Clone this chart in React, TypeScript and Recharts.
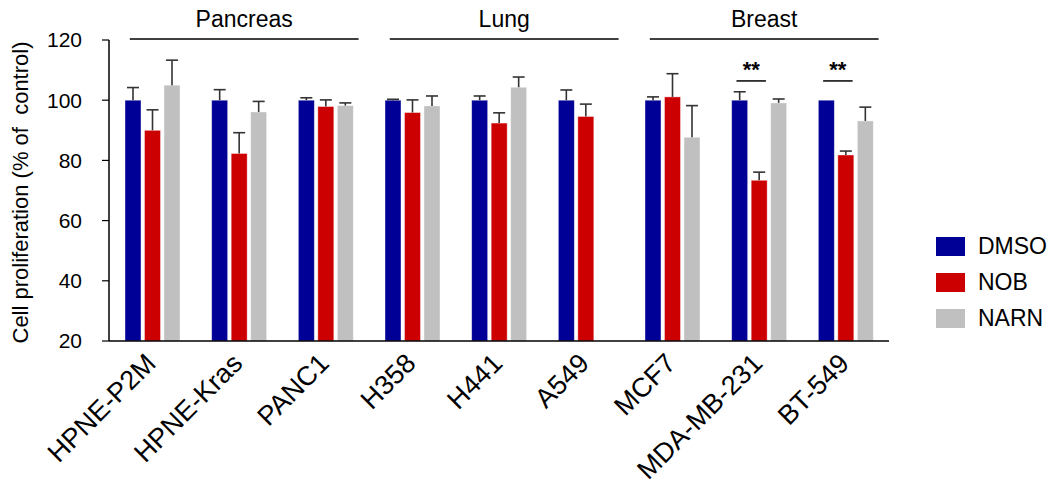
import React from 'react'
import { BarChart, Bar, XAxis, YAxis, ReferenceLine } from 'recharts'

const categories = ['HPNE-P2M', 'HPNE-Kras', 'PANC1', 'H358', 'H441', 'A549', 'MCF7', 'MDA-MB-231', 'BT-549']
const dmso = [100, 100, 100, 100, 100, 100, 100, 100, 100]
const dmsoErr = [4.2, 3.5, 0.8, 0.3, 1.4, 3.4, 1.1, 2.8, 0]
const nob = [90.0, 82.3, 97.9, 95.9, 92.4, 94.6, 101.1, 73.4, 81.8]
const nobErr = [6.8, 6.9, 2.2, 4.2, 3.4, 4.1, 7.7, 2.7, 1.3]
const narn = [105.0, 96.1, 98.2, 98.1, 104.3, null, 87.7, 99.1, 93.1]
const narnErr = [8.3, 3.5, 0.9, 3.3, 3.4, null, 10.5, 1.3, 4.6]

const groupNames = ['Pancreas', 'Lung', 'Breast']
const groupFirst = [0, 3, 6]
const groupLast = [2, 5, 8]

const sigCats = ['MDA-MB-231', 'BT-549']
const sigLabel = '**'
const sigLevel = 106.4

const yTicks = [20, 40, 60, 80, 100, 120]

const series = [
  { key: 'dmso', err: 'dmsoErr', name: 'DMSO', color: '#000096' },
  { key: 'nob', err: 'nobErr', name: 'NOB', color: '#cc0000' },
  { key: 'narn', err: 'narnErr', name: 'NARN', color: '#c0c0c0' },
]

const data = categories.map((c, i) => ({
  name: c,
  pos: i + 0.5,
  dmso: dmso[i],
  dmsoErr: dmsoErr[i],
  nob: nob[i],
  nobErr: nobErr[i],
  narn: narn[i],
  narnErr: narnErr[i],
}))

const FONT = '"Liberation Sans", Arial, sans-serif'
const Y_MIN = 20

// bar plus an upper-only error whisker; pixel scale taken from the bar itself
function barWithErr(dataKey: string, errKey: string) {
  return (props: any) => {
    const { x, y, width, height, fill, payload } = props
    const v = payload[dataKey]
    if (v == null || !height) return <g />
    const ppu = height / (v - Y_MIN)
    const e = payload[errKey] || 0
    const cx = x + width / 2
    const top = y - e * ppu
    return (
      <g>
        <rect x={x} y={y} width={width} height={height} fill={fill} stroke="#fff" strokeOpacity={0.5} strokeWidth={0.8} />
        {e > 0 && (
          <g stroke="#333" strokeWidth={1.6}>
            <line x1={cx} x2={cx} y1={y} y2={top} />
            <line x1={cx - 6} x2={cx + 6} y1={top} y2={top} />
          </g>
        )}
      </g>
    )
  }
}

function XTick({ x, y, payload }: any) {
  return (
    <g transform={`translate(${x + 5},${y + 16})`}>
      <text transform="rotate(-45)" textAnchor="end" fontSize={27} fontFamily={FONT} fill="#000">
        {payload.value}
      </text>
    </g>
  )
}

function YLabel({ viewBox }: any) {
  const cx = viewBox.x + 19
  const cy = viewBox.y + viewBox.height / 2 + 2
  return (
    <text
      x={cx}
      y={cy}
      transform={`rotate(-90 ${cx} ${cy})`}
      textAnchor="middle"
      fontSize={22}
      fontFamily={FONT}
      fill="#000"
      style={{ whiteSpace: 'pre' }}
    >
      Cell proliferation (% of  control)
    </text>
  )
}

function LegendBox() {
  return (
    <div style={{ position: 'absolute', left: 936, top: 228, fontFamily: FONT, fontSize: 23, color: '#000', whiteSpace: 'nowrap' }}>
      {series.map(s => (
        <div key={s.key} style={{ display: 'flex', alignItems: 'center', height: 36 }}>
          <span style={{ width: 29, height: 19, background: s.color, display: 'inline-block', marginRight: 13 }} />
          <span>{s.name}</span>
        </div>
      ))}
    </div>
  )
}

export default function App() {
  return (
    <div style={{ position: 'fixed', left: 0, top: 0, width: 1050, height: 491, background: '#fff' }}>
      <BarChart
        width={1050}
        height={491}
        data={data}
        margin={{ top: 40, right: 161, left: 9, bottom: 30 }}
        barSize={16}
        barGap={3.5}
      >
        <XAxis
          dataKey="name"
          height={120}
          axisLine={{ stroke: '#000', strokeWidth: 1.5 }}
          tickLine={false}
          tick={<XTick />}
          interval={0}
        />
        <XAxis xAxisId="n" dataKey="pos" type="number" domain={[0, 9]} allowDataOverflow hide />
        <YAxis
          width={100}
          domain={[20, 120]}
          ticks={yTicks}
          allowDataOverflow
          axisLine={{ stroke: '#000', strokeWidth: 1.5 }}
          tickLine={{ stroke: '#000', strokeWidth: 1.2 }}
          tickSize={7}
          tickMargin={20}
          tick={{ fontSize: 21, fontFamily: FONT, fill: '#000' }}
          label={<YLabel />}
        />
        {series.map(s => (
          <Bar
            key={s.key}
            dataKey={s.key}
            name={s.name}
            fill={s.color}
            isAnimationActive={false}
            shape={barWithErr(s.key, s.err)}
          />
        ))}
        {groupNames.map((g, i) => (
          <ReferenceLine
            key={g}
            xAxisId="n"
            ifOverflow="visible"
            stroke="#000"
            strokeWidth={1.5}
            segment={[
              { x: groupFirst[i] + 0.24, y: 120.3 },
              { x: groupLast[i] + 0.88, y: 120.3 },
            ]}
            label={{ value: g, position: 'top', offset: 12, fontSize: 23, fontFamily: FONT, fill: '#000' }}
          />
        ))}
        {sigCats.map(c => {
          const i = categories.indexOf(c)
          return (
            <ReferenceLine
              key={c}
              xAxisId="n"
              ifOverflow="visible"
              stroke="#000"
              strokeWidth={1.5}
              segment={[
                { x: i + 0.24, y: sigLevel },
                { x: i + 0.58, y: sigLevel },
              ]}
              label={{ value: sigLabel, position: 'top', offset: 4, fontSize: 22, fontWeight: 'bold', fontFamily: FONT, fill: '#000' }}
            />
          )
        })}
      </BarChart>
      <LegendBox />
    </div>
  )
}
